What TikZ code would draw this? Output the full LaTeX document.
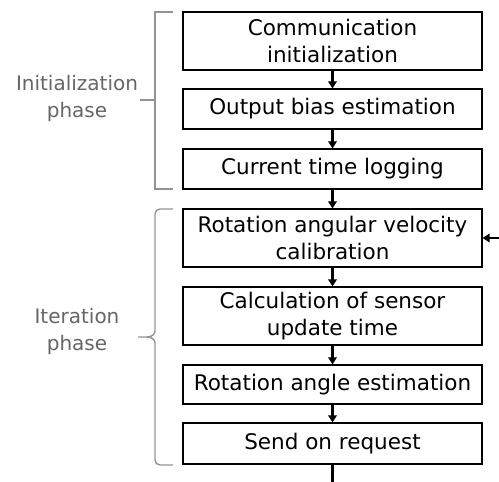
\documentclass[tikz,border=0pt]{standalone}
\usepackage{fontspec}
\setmainfont{DejaVu Sans}
\usetikzlibrary{arrows.meta}
\begin{document}
\begin{tikzpicture}[x=1pt,y=-1pt,
  stepbox/.style={draw=black,line width=1.2pt,minimum width=299pt,inner sep=0pt,align=center,font=\fontsize{21.5}{27}\selectfont},
  flow/.style={line width=2.4pt,-{Triangle[length=7pt,width=8.5pt]}},
  brk/.style={draw=gray!85,line width=1.4pt},
  phase/.style={text=gray!80!black,align=center,font=\fontsize{20}{27}\selectfont}]
\useasboundingbox (0,0) rectangle (499,482);
\node[stepbox,minimum height=58pt] (b1) at (332.5,41) {Communication\\initialization};
\node[stepbox,minimum height=40pt] (b2) at (332.5,109) {Output bias estimation};
\node[stepbox,minimum height=40pt] (b3) at (332.5,169) {Current time logging};
\node[stepbox,minimum height=58pt] (b4) at (332.5,238) {Rotation angular velocity\\calibration};
\node[stepbox,minimum height=58pt] (b5) at (332.5,316) {Calculation of sensor\\update time};
\node[stepbox,minimum height=39pt] (b6) at (332.5,384.5) {Rotation angle estimation};
\node[stepbox,minimum height=41pt] (b7) at (332.5,443.5) {Send on request};
\coordinate (loopin) at (499,238);
\coordinate (out) at (332.5,482);
\draw[flow] (b1) -- (b2);
\draw[flow] (b2) -- (b3);
\draw[flow] (b3) -- (b4);
\draw[flow] (b4) -- (b5);
\draw[flow] (b5) -- (b6);
\draw[flow] (b6) -- (b7);
\draw[flow] (loopin) -- (b4.east);
\draw[line width=2.4pt] (b7.south) -- (out);
% brackets
\draw[brk] (173,12) -- (155,12) -- (155,189) -- (173,189);
\draw[brk] (140,100) -- (155,100);
\draw[brk] (173,209) -- (160,209) to[out=180,in=90] (155,214) -- (155,331)
  to[out=-90,in=0] (147,337) -- (138,337);
\draw[brk] (147,337) to[out=0,in=90] (155,343) -- (155,460)
  to[out=-90,in=180] (160,465) -- (173,465);
\node[phase] (p1) at (77,98.5) {Initialization\\phase};
\node[phase] (p2) at (77,331.5) {Iteration\\phase};
\end{tikzpicture}
\end{document}
